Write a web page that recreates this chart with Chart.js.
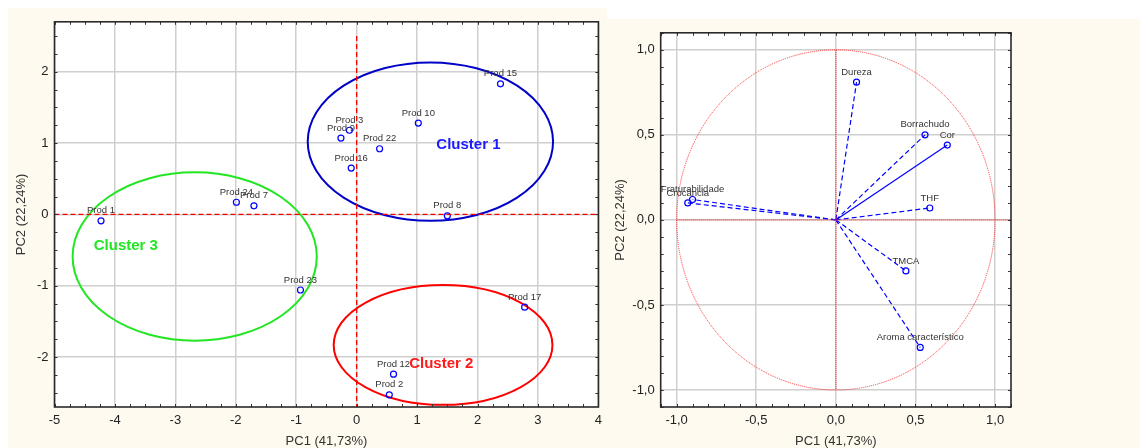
<!DOCTYPE html>
<html><head><meta charset="utf-8">
<script src="https://cdn.jsdelivr.net/npm/chart.js@4.4.0/dist/chart.umd.min.js"></script>
<style>
html,body{margin:0;padding:0;background:#fff;width:1140px;height:448px;overflow:hidden;}
#bgL{position:absolute;left:8px;top:8px;width:599px;height:440px;background:#fffaef;}
#bgR{position:absolute;left:607px;top:19px;width:533px;height:429px;background:#fffaef;}
#cL{position:absolute;left:8px;top:8px;}
#cR{position:absolute;left:607px;top:19px;}
</style></head><body>
<div id="bgL"></div><div id="bgR"></div>
<canvas id="cL" width="600" height="440"></canvas>
<canvas id="cR" width="533" height="429"></canvas>
<script>
// ---------- Left chart data (scores) ----------
const prodNames = ['Prod 1','Prod 24','Prod 7','Prod 23','Prod 9','Prod 3','Prod 16','Prod 22','Prod 10','Prod 15','Prod 8','Prod 17','Prod 12','Prod 2'];
const pc1Scores = [-4.23,-1.99,-1.70,-0.93,-0.26,-0.12,-0.09,0.38,1.02,2.38,1.50,2.78,0.61,0.54];
const pc2Scores = [-0.09,0.17,0.12,-1.06,1.07,1.18,0.65,0.92,1.28,1.83,-0.02,-1.30,-2.24,-2.53];

const clusterNames = ['Cluster 1','Cluster 2','Cluster 3'];
const clusterCx = [1.22, 1.43, -2.68];
const clusterCy = [1.02, -1.83, -0.59];
const clusterRx = [2.03, 1.81, 2.02];
const clusterRy = [1.11, 0.84, 1.18];
const clusterLabelX = [1.85, 1.40, -3.82];
const clusterLabelY = [0.97, -2.09, -0.44];
const clusterColors = ['#0000c8','#ff0000','#22e622'];
const clusterTextColors = ['#1a1aff','#ff1a1a','#22e622'];

const leftXTicks = [-5,-4,-3,-2,-1,0,1,2,3,4];
const leftYTicks = [-2,-1,0,1,2];

// ---------- Right chart data (loadings) ----------
const varNames = ['Dureza','Borrachudo','Cor','THF','TMCA','Aroma característico','Fraturabilidade','Crocância'];
const pc1Load = [0.13,0.56,0.70,0.59,0.44,0.53,-0.90,-0.93];
const pc2Load = [0.81,0.50,0.44,0.07,-0.30,-0.75,0.12,0.10];
const solidLines = ['Cor'];
const rightTicks = [-1,-0.5,0,0.5,1];

const FONT = "'Liberation Sans', Arial, sans-serif";

const whiteArea = {id:'whiteArea', beforeDraw(chart){
  const {ctx, chartArea:a} = chart; ctx.save(); ctx.fillStyle='#fff';
  ctx.fillRect(a.left,a.top,a.right-a.left,a.bottom-a.top); ctx.restore();
}};

function framePlugin(minorX, minorY){
  return {id:'frame', afterDraw(chart){
    const {ctx, chartArea:a, scales} = chart;
    ctx.save();
    ctx.strokeStyle='#333'; ctx.lineWidth=1;
    const xs=scales.x, ys=scales.y;
    const drawX=(v,len)=>{const p=Math.round(xs.getPixelForValue(v))+0.5;
      ctx.beginPath();ctx.moveTo(p,a.bottom);ctx.lineTo(p,a.bottom-len);ctx.moveTo(p,a.top);ctx.lineTo(p,a.top+len);ctx.stroke();};
    const drawY=(v,len)=>{const p=Math.round(ys.getPixelForValue(v))+0.5;
      ctx.beginPath();ctx.moveTo(a.left,p);ctx.lineTo(a.left+len,p);ctx.moveTo(a.right,p);ctx.lineTo(a.right-len,p);ctx.stroke();};
    for(let k=Math.ceil(xs.min/minorX);k*minorX<=xs.max;k++){drawX(k*minorX,3);}
    for(let k=Math.ceil(ys.min/minorY);k*minorY<=ys.max;k++){drawY(k*minorY,3);}
    ctx.lineWidth=1.6; ctx.strokeStyle='#2a2a2a';
    ctx.strokeRect(a.left,a.top,a.right-a.left,a.bottom-a.top);
    ctx.restore();
  }};
}

function labelPlugin(names, xs, ys){
  return {id:'ptLabels', afterDatasetsDraw(chart){
    const {ctx, scales} = chart; ctx.save();
    ctx.font = "9.5px "+FONT; ctx.fillStyle='#333'; ctx.textAlign='center'; ctx.textBaseline='middle';
    names.forEach((n,i)=>{
      const px=scales.x.getPixelForValue(xs[i]), py=scales.y.getPixelForValue(ys[i]);
      ctx.fillText(n,px,py-10);
    });
    ctx.restore();
  }};
}

const ellipsePlugin = {id:'ellipses',
  beforeDatasetsDraw(chart){
    const {ctx, scales} = chart; ctx.save(); ctx.lineWidth=2;
    clusterNames.forEach((n,i)=>{
      const cx=scales.x.getPixelForValue(clusterCx[i]), cy=scales.y.getPixelForValue(clusterCy[i]);
      const rx=Math.abs(scales.x.getPixelForValue(clusterCx[i]+clusterRx[i])-cx);
      const ry=Math.abs(scales.y.getPixelForValue(clusterCy[i]+clusterRy[i])-cy);
      ctx.strokeStyle=clusterColors[i]; ctx.beginPath(); ctx.ellipse(cx,cy,rx,ry,0,0,Math.PI*2); ctx.stroke();
    });
    ctx.restore();
  },
  afterDatasetsDraw(chart){
    const {ctx, scales} = chart; ctx.save();
    ctx.font = "bold 15px "+FONT; ctx.textAlign='center'; ctx.textBaseline='middle';
    clusterNames.forEach((n,i)=>{
      ctx.fillStyle=clusterTextColors[i];
      ctx.fillText(n, scales.x.getPixelForValue(clusterLabelX[i]), scales.y.getPixelForValue(clusterLabelY[i]));
    });
    ctx.restore();
  }
};

const unitCirclePlugin = {id:'unitCircle', beforeDatasetsDraw(chart){
  const {ctx, scales} = chart; ctx.save();
  const cx=scales.x.getPixelForValue(0), cy=scales.y.getPixelForValue(0);
  const rx=scales.x.getPixelForValue(1)-cx, ry=cy-scales.y.getPixelForValue(1);
  ctx.strokeStyle='#ff3030'; ctx.lineWidth=1; ctx.setLineDash([1,1]);
  ctx.beginPath(); ctx.ellipse(cx,cy,rx,ry,0,0,Math.PI*2); ctx.stroke();
  ctx.restore();
}};

function axisCommon(min,max,tickVals,fmt,fitProp,fitVal,title,titlePad){
  return {
    type:'linear', min, max,
    afterBuildTicks(scale){ scale.ticks = tickVals.map(v=>({value:v})); },
    afterFit(scale){ scale[fitProp]=fitVal; },
    grid:{color:'#cfcfcf', lineWidth:1.5, drawTicks:false},
    border:{display:false},
    ticks:{padding:6, color:'#222', font:{family:FONT,size:13}, callback:fmt, maxRotation:0, autoSkip:false},
    title:{display:true, text:title, color:'#333', font:{family:FONT,size:13,lineHeight:1}, padding:titlePad}
  };
}

// ---------- Left chart ----------
new Chart(document.getElementById('cL'), {
  type:'scatter',
  data:{datasets:[
    {type:'line', data:[{x:0,y:2.5},{x:0,y:-2.7}], borderColor:'#ff0000', borderWidth:1.3, borderDash:[5,3], pointRadius:0},
    {type:'line', data:[{x:-5,y:0},{x:4,y:0}], borderColor:'#ff0000', borderWidth:1.3, borderDash:[5,3], pointRadius:0},
    {data:pc1Scores.map((x,i)=>({x, y:pc2Scores[i]})), pointStyle:'circle', pointRadius:3, borderColor:'#0000ff', backgroundColor:'rgba(0,0,0,0)', borderWidth:1.2}
  ]},
  options:{
    responsive:false, animation:false, devicePixelRatio:1,
    layout:{padding:{left:0,top:10,right:7,bottom:0}},
    plugins:{legend:{display:false}, tooltip:{enabled:false}},
    scales:{
      x: axisCommon(-5,4,leftXTicks,v=>String(v),'height',41,'PC1 (41,73%)',{top:0,bottom:0}),
      y: axisCommon(-2.7,2.7,leftYTicks,v=>String(v),'width',46.5,'PC2 (22,24%)',{top:6.5,bottom:0})
    }
  },
  plugins:[whiteArea, ellipsePlugin, labelPlugin(prodNames,pc1Scores,pc2Scores), framePlugin(0.25,0.25)]
});

// ---------- Right chart ----------
const fmtComma = v => v.toFixed(1).replace('.',',');
const loadSets = varNames.map((n,i)=>({
  type:'line', data:[{x:0,y:0},{x:pc1Load[i],y:pc2Load[i]}],
  borderColor:'#0000ff', borderWidth:1.2, borderDash: solidLines.includes(n)?[]:[5,3],
  pointRadius:[0,3], pointBorderColor:'#0000ff', pointBackgroundColor:'rgba(0,0,0,0)', pointBorderWidth:1.2
}));
new Chart(document.getElementById('cR'), {
  type:'scatter',
  data:{datasets:[
    {type:'line', data:[{x:0,y:1},{x:0,y:-1}], borderColor:'#ff3030', borderWidth:1.3, borderDash:[1,1], pointRadius:0},
    {type:'line', data:[{x:-1,y:0},{x:1.1,y:0}], borderColor:'#ff3030', borderWidth:1.3, borderDash:[1,1], pointRadius:0},
    ...loadSets
  ]},
  options:{
    responsive:false, animation:false, devicePixelRatio:1,
    layout:{padding:{left:0,top:10,right:129,bottom:0}},
    plugins:{legend:{display:false}, tooltip:{enabled:false}},
    scales:{
      x: axisCommon(-1.1,1.1,rightTicks,fmtComma,'height',41,'PC1 (41,73%)',{top:0,bottom:0}),
      y: axisCommon(-1.1,1.1,rightTicks,fmtComma,'width',53.7,'PC2 (22,24%)',{top:6.5,bottom:0})
    }
  },
  plugins:[whiteArea, unitCirclePlugin, labelPlugin(varNames,pc1Load,pc2Load), framePlugin(0.1,0.1)]
});
</script>
</body></html>
